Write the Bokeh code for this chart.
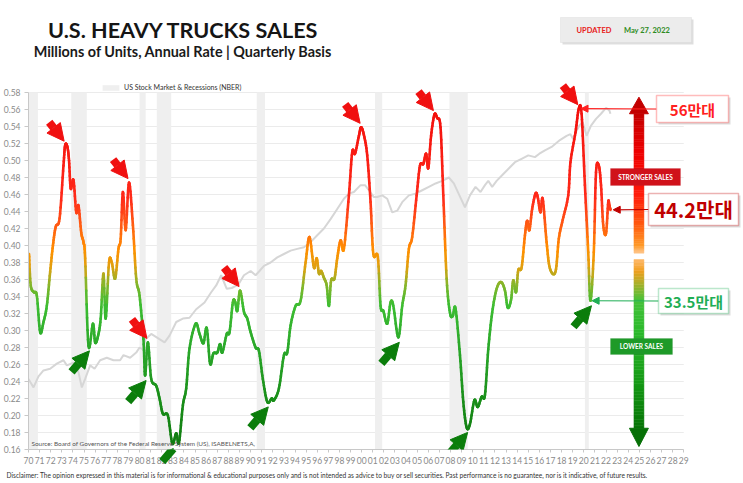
import numpy as np
from bokeh.plotting import figure
from bokeh.models import (ColumnDataSource, FixedTicker, NumeralTickFormatter, Label, Title,
                          BoxAnnotation, Arrow, NormalHead, Legend, LegendItem, Range1d)
from bokeh.embed import file_html
from bokeh.resources import INLINE

# ---------------- data ----------------
truck_year = [
    1970.05, 1970.2, 1970.5, 1970.75, 1971.05, 1971.35, 1971.65, 1971.95, 1972.2, 1972.45,
    1972.8, 1973.15, 1973.3, 1973.5, 1973.65, 1973.8, 1974.05, 1974.3, 1974.5, 1974.75,
    1974.95, 1975.1, 1975.4, 1975.8, 1976.0, 1976.25, 1976.5, 1976.75, 1976.95, 1977.25,
    1977.5, 1977.8, 1978.1, 1978.3, 1978.5, 1978.75, 1979.05, 1979.4, 1979.7, 1980.0,
    1980.35, 1980.5, 1980.75, 1981.05, 1981.5, 1981.8, 1982.1, 1982.55, 1982.95, 1983.3,
    1983.55, 1983.9, 1984.2, 1984.5, 1985.05, 1985.4, 1985.75, 1986.05, 1986.35, 1986.65,
    1987.0, 1987.25, 1987.45, 1987.85, 1988.1, 1988.4, 1988.6, 1988.8, 1989.05, 1989.4,
    1989.7, 1990.0, 1990.45, 1990.75, 1991.1, 1991.5, 1991.9, 1992.1, 1992.55, 1993.0,
    1993.3, 1993.6, 1994.05, 1994.5, 1994.95, 1995.3, 1995.7, 1995.95, 1996.15, 1996.35,
    1996.6, 1996.85, 1997.05, 1997.25, 1997.55, 1997.8, 1998.1, 1998.4, 1998.85, 1999.15,
    1999.4, 1999.75, 1999.95, 2000.2, 2000.5, 2000.8, 2001.05, 2001.45, 2001.7, 2001.95,
    2002.3, 2002.6, 2002.85, 2003.3, 2003.65, 2003.95, 2004.25, 2004.55, 2004.95, 2005.25,
    2005.55, 2005.8, 2006.0, 2006.25, 2006.55, 2006.8, 2007.1, 2007.35, 2007.65, 2007.95,
    2008.2, 2008.45, 2008.85, 2009.15, 2009.45, 2009.75, 2010.15, 2010.45, 2010.8, 2011.1,
    2011.4, 2011.75, 2012.15, 2012.55, 2012.9, 2013.15, 2013.45, 2013.65, 2013.9, 2014.1,
    2014.4, 2014.7, 2014.9, 2015.1, 2015.35, 2015.65, 2015.85, 2016.1, 2016.3, 2016.65,
    2016.95, 2017.45, 2017.75, 2018.1, 2018.6, 2018.8, 2019.25, 2019.55, 2019.8, 2020.1,
    2020.4, 2020.6, 2020.9, 2021.1, 2021.35, 2021.55, 2021.75, 2022.0, 2022.2, 2022.3,
    2022.4]
truck_sales = [
    0.390, 0.353, 0.345, 0.341, 0.298, 0.310, 0.329, 0.369, 0.400, 0.422,
    0.432, 0.494, 0.518, 0.516, 0.500, 0.467, 0.477, 0.439, 0.447, 0.415,
    0.404, 0.385, 0.282, 0.308, 0.286, 0.293, 0.314, 0.367, 0.314, 0.380,
    0.380, 0.361, 0.396, 0.408, 0.463, 0.418, 0.474, 0.424, 0.361, 0.341,
    0.290, 0.247, 0.286, 0.243, 0.235, 0.220, 0.202, 0.200, 0.167, 0.179,
    0.168, 0.212, 0.232, 0.279, 0.308, 0.296, 0.285, 0.303, 0.261, 0.273,
    0.274, 0.284, 0.274, 0.296, 0.298, 0.333, 0.334, 0.323, 0.347, 0.322,
    0.314, 0.298, 0.280, 0.276, 0.243, 0.216, 0.220, 0.218, 0.232, 0.271,
    0.274, 0.306, 0.329, 0.335, 0.380, 0.410, 0.374, 0.385, 0.367, 0.370,
    0.362, 0.353, 0.329, 0.359, 0.361, 0.385, 0.406, 0.396, 0.459, 0.510,
    0.508, 0.529, 0.539, 0.530, 0.506, 0.451, 0.390, 0.387, 0.329, 0.323,
    0.308, 0.333, 0.329, 0.292, 0.329, 0.353, 0.396, 0.410, 0.459, 0.494,
    0.496, 0.508, 0.491, 0.529, 0.554, 0.550, 0.539, 0.459, 0.361, 0.321,
    0.317, 0.326, 0.271, 0.216, 0.186, 0.190, 0.218, 0.210, 0.222, 0.224,
    0.278, 0.321, 0.349, 0.357, 0.347, 0.327, 0.336, 0.359, 0.345, 0.371,
    0.374, 0.412, 0.429, 0.418, 0.443, 0.461, 0.457, 0.439, 0.455, 0.404,
    0.373, 0.369, 0.408, 0.430, 0.459, 0.498, 0.533, 0.561, 0.555, 0.471,
    0.392, 0.335, 0.392, 0.486, 0.494, 0.471, 0.424, 0.414, 0.451, 0.447,
    0.442]

# US stock market (gray line), expressed on the chart's left-axis scale
stock_year = [
    1970.0, 1970.45, 1970.9, 1971.35, 1971.95, 1972.55, 1973.15, 1973.45, 1974.05, 1974.5,
    1974.8, 1975.1, 1975.55, 1975.95, 1976.45, 1977.05, 1977.65, 1978.25, 1978.55, 1979.15,
    1979.7, 1980.0, 1980.25, 1980.55, 1981.05, 1981.65, 1982.25, 1982.7, 1983.3, 1983.9,
    1984.5, 1985.1, 1985.85, 1986.45, 1986.9, 1987.35, 1987.85, 1988.3, 1988.9, 1989.4,
    1990.0, 1990.45, 1990.8, 1991.2, 1991.8, 1992.4, 1993.0, 1993.6, 1994.2, 1994.8,
    1995.4, 1996.0, 1996.6, 1997.2, 1997.8, 1998.4, 1998.85, 1999.3, 1999.9, 2000.3,
    2000.65, 2001.1, 2001.4, 2001.85, 2002.3, 2002.75, 2003.2, 2003.65, 2004.25, 2004.85,
    2005.45, 2006.05, 2006.65, 2007.25, 2007.85, 2008.3, 2008.8, 2009.3, 2009.75, 2010.25,
    2010.7, 2011.1, 2011.4, 2011.75, 2012.15, 2012.6, 2013.2, 2013.8, 2014.4, 2015.0,
    2015.6, 2016.0, 2016.5, 2017.1, 2017.85, 2018.45, 2018.8, 2019.05, 2019.35, 2019.6,
    2019.9, 2020.25, 2020.65, 2021.1, 2021.55, 2022.0, 2022.3, 2022.4]
stock_level = [
    0.243, 0.233, 0.246, 0.253, 0.255, 0.261, 0.265, 0.259, 0.262, 0.251,
    0.233, 0.243, 0.259, 0.255, 0.265, 0.268, 0.265, 0.265, 0.271, 0.268,
    0.274, 0.280, 0.278, 0.290, 0.296, 0.291, 0.286, 0.294, 0.310, 0.314,
    0.315, 0.325, 0.333, 0.345, 0.353, 0.365, 0.349, 0.350, 0.354, 0.365,
    0.370, 0.365, 0.370, 0.376, 0.380, 0.386, 0.390, 0.394, 0.396, 0.398,
    0.404, 0.412, 0.420, 0.431, 0.443, 0.455, 0.461, 0.463, 0.471, 0.471,
    0.465, 0.457, 0.457, 0.459, 0.455, 0.439, 0.441, 0.451, 0.459, 0.461,
    0.465, 0.469, 0.473, 0.476, 0.480, 0.473, 0.459, 0.445, 0.459, 0.469,
    0.463, 0.471, 0.476, 0.469, 0.476, 0.482, 0.490, 0.498, 0.502, 0.506,
    0.504, 0.508, 0.512, 0.516, 0.524, 0.529, 0.531, 0.525, 0.535, 0.541,
    0.545, 0.529, 0.541, 0.549, 0.555, 0.562, 0.559, 0.555]

recession_start = [1969.95, 1973.85, 1980.0, 1981.55, 1990.55, 2001.2, 2007.9, 2020.1]
recession_end = [1970.85, 1975.25, 1980.55, 1982.85, 1991.3, 2001.85, 2009.55, 2020.45]

peak_years = [1973.3, 1979.05, 1980.75, 1989.05, 1999.95, 2006.55, 2019.55]
trough_years = [1975.4, 1980.5, 1982.95, 1991.5, 2003.3, 2009.45, 2020.6]

year_ticks = list(range(1970, 2030))
year_labels = [f"{y % 100:02d}" for y in year_ticks]
value_ticks = [round(0.16 + 0.02 * i, 2) for i in range(22)]

callout_years = [2019.55, 2022.4, 2020.6]
callout_labels = ["56만대", "44.2만대", "33.5만대"]

# ---------------- layout constants ----------------
W, H = 743, 483
FL, FB = 25, 449          # frame left / bottom (canvas px); frame spans to right and top edges
AX_R, AX_T = 683, 92      # where the axes end (canvas px)
X0, X1 = 1970, 2029
Y0, Y1 = 0.16, 0.58
PXY = (AX_R - FL) / (X1 - X0)
PXV = (FB - AX_T) / (Y1 - Y0)
XR_END = X1 + (W - AX_R) / PXY
YR_END = Y1 + AX_T / PXV
FONT = "Lato"


def sx(px):
    return px - FL


def sy(py):
    return FB - py


def hex2rgb(h):
    h = h.lstrip("#")
    return tuple(int(h[i:i + 2], 16) for i in (0, 2, 4))


def grad(v, stops):
    vs = [s[0] for s in stops]
    if v <= vs[0]:
        return stops[0][1]
    if v >= vs[-1]:
        return stops[-1][1]
    for (a, ca), (b, cb) in zip(stops[:-1], stops[1:]):
        if a <= v <= b:
            t = (v - a) / (b - a)
            r1, g1, b1 = hex2rgb(ca)
            r2, g2, b2 = hex2rgb(cb)
            return "#%02x%02x%02x" % (round(r1 + (r2 - r1) * t), round(g1 + (g2 - g1) * t),
                                      round(b1 + (b2 - b1) * t))
    return stops[-1][1]


def smooth(xs, ys, n=8):
    xs = np.asarray(xs, float)
    ys = np.asarray(ys, float)
    px = np.concatenate([[xs[0]], xs, [xs[-1]]])
    py = np.concatenate([[ys[0]], ys, [ys[-1]]])
    t = np.linspace(0, 1, n, endpoint=False)
    ox, oy = [], []
    for i in range(1, len(px) - 2):
        for P, out in ((px, ox), (py, oy)):
            p0, p1, p2, p3 = P[i - 1], P[i], P[i + 1], P[i + 2]
            out.extend(0.5 * (2 * p1 + (-p0 + p2) * t + (2 * p0 - 5 * p1 + 4 * p2 - p3) * t ** 2
                              + (-p0 + 3 * p1 - 3 * p2 + p3) * t ** 3))
    ox.append(xs[-1])
    oy.append(ys[-1])
    return np.array(ox), np.array(oy)


p = figure(width=W, height=H, x_range=Range1d(X0, XR_END), y_range=Range1d(Y0, YR_END),
           output_backend="svg", toolbar_location=None,
           min_border_left=FL, min_border_right=0, min_border_top=0, min_border_bottom=H - FB)
p.outline_line_color = None
p.background_fill_color = "white"
p.border_fill_color = "white"
p.xgrid.visible = False
p.ygrid.visible = False

p.yaxis.ticker = FixedTicker(ticks=value_ticks)
p.yaxis.formatter = NumeralTickFormatter(format="0.00")
p.yaxis.bounds = (Y0, Y1)
p.xaxis.ticker = FixedTicker(ticks=year_ticks)
p.xaxis.major_label_overrides = {y: l for y, l in zip(year_ticks, year_labels)}
p.xaxis.bounds = (X0, X1)
for ax in (p.xaxis, p.yaxis):
    ax.axis_line_color = "#c8c8c8"
    ax.major_tick_line_color = "#c8c8c8"
    ax.minor_tick_line_color = None
    ax.major_tick_in = 0
    ax.major_label_text_color = "#8a8a8a"
    ax.major_label_text_font = FONT
    ax.major_label_text_font_size = "8.5px"
p.yaxis.major_tick_out = 4
p.yaxis.major_label_standoff = 4
p.xaxis.major_tick_out = 3
p.xaxis.major_label_standoff = 4

# horizontal gridlines, limited to the axis span
n_t = len(value_ticks)
p.segment(x0=[X0] * n_t, x1=[X1] * n_t, y0=value_ticks, y1=value_ticks,
          line_color="#ebebeb", line_width=1)

# recessions
rec_src = ColumnDataSource(dict(left=recession_start, right=recession_end,
                                bottom=[Y0] * len(recession_start), top=[Y1] * len(recession_start)))
rec_r = p.quad(left="left", right="right", bottom="bottom", top="top", source=rec_src,
               fill_color="#efefef", line_color=None)

# stock market
p.line(stock_year, stock_level, line_color="#d6d6d6", line_width=2)

# big gradient arrow at the right
AXC = 1970 + (638 - FL) / PXY
hw, hh = 5 / PXY, 9.5 / PXY
upper_stops = [(0.391, "#ffc890"), (0.40, "#ff9a28"), (0.425, "#ff5a10"), (0.46, "#ff1c0c"),
               (0.51, "#ee0000"), (0.555, "#c40000")]
lower_stops = [(0.185, "#067406"), (0.24, "#169a16"), (0.30, "#2cba2c"), (0.335, "#44c23a"),
               (0.355, "#a8b02a"), (0.37, "#f0a020"), (0.3835, "#ffb868")]
for lo, hi, stops in ((0.391, 0.555, upper_stops), (0.185, 0.3835, lower_stops)):
    edges = np.linspace(lo, hi, 61)
    cols = [grad((a + b) / 2, stops) for a, b in zip(edges[:-1], edges[1:])]
    p.quad(left=AXC - hw, right=AXC + hw, bottom=edges[:-1], top=edges[1:],
           fill_color=cols, line_color=cols, line_width=0.5)
p.patch([AXC - hh, AXC + hh, AXC], [0.555, 0.555, 0.5745], fill_color="#c20000", line_color="#c20000")
p.patch([AXC - hh, AXC + hh, AXC], [0.185, 0.185, 0.1635], fill_color="#067006", line_color="#067006")

# main line, colour graded by value
line_stops = [(0.16, "#0f7a0f"), (0.22, "#1a8f1a"), (0.28, "#2aa82a"), (0.33, "#3cbd32"),
              (0.355, "#8ab52a"), (0.375, "#e0a010"), (0.395, "#ff9000"), (0.425, "#ff5a14"),
              (0.455, "#ff2a1a"), (0.58, "#f00a0a")]
mx, my = smooth(truck_year, truck_sales, 8)
seg = ColumnDataSource(dict(x0=mx[:-1], y0=my[:-1], x1=mx[1:], y1=my[1:],
                            c=[grad((a + b) / 2, line_stops) for a, b in zip(my[:-1], my[1:])]))
p.segment(x0="x0", y0="y0", x1="x1", y1="y1", line_color="c", line_width=2.6,
          line_cap="round", source=seg)


def val_at(yr):
    return truck_sales[truck_year.index(yr)]


for yr in peak_years:
    v = val_at(yr)
    p.add_layout(Arrow(x_start=yr - 16 / PXY, y_start=v + 23 / PXV, x_end=yr - 1 / PXY, y_end=v + 4 / PXV,
                       line_color="#f01010", line_width=8,
                       end=NormalHead(size=17, fill_color="#f01010", line_color="#f01010", line_width=1)))
for yr in trough_years:
    v = val_at(yr)
    p.add_layout(Arrow(x_start=yr - 17 / PXY, y_start=v - 26 / PXV, x_end=yr + 1 / PXY, y_end=v - 5 / PXV,
                       line_color="#0b7d0b", line_width=8,
                       end=NormalHead(size=17, fill_color="#0b7d0b", line_color="#0b7d0b", line_width=1)))

# legend
legend = Legend(items=[LegendItem(label="US Stock Market & Recessions (NBER)", renderers=[rec_r])],
                location=(72, 358), glyph_width=21, glyph_height=7, label_height=7,
                label_text_font=FONT, label_text_font_size="7px", label_text_color="#333333",
                label_standoff=3, padding=0, margin=0, spacing=0,
                border_line_alpha=0, background_fill_alpha=0)
p.add_layout(legend, "center")


def screen_box(l, r, t, b, **kw):
    return BoxAnnotation(left=sx(l), right=sx(r), top=sy(t), bottom=sy(b),
                         left_units="screen", right_units="screen", top_units="screen",
                         bottom_units="screen", **kw)


# strength boxes on the big arrow
p.add_layout(screen_box(607, 677, 168, 185, fill_color="#d0121a", fill_alpha=1,
                        line_color="#b00010", line_width=0.5))
p.add_layout(Label(x=sx(642), y=sy(176.5), x_units="screen", y_units="screen", text="STRONGER SALES",
                   text_font=FONT, text_font_style="bold", text_font_size="6.5px", text_color="white",
                   text_align="center", text_baseline="middle"))
p.add_layout(screen_box(607, 669, 338, 354, fill_color="#1e9a28", fill_alpha=1,
                        line_color="#137a1a", line_width=0.5))
p.add_layout(Label(x=sx(638), y=sy(346), x_units="screen", y_units="screen", text="LOWER SALES",
                   text_font=FONT, text_font_style="bold", text_font_size="6.5px", text_color="white",
                   text_align="center", text_baseline="middle"))

# callouts
callout_boxes = [(653, 725, 95, 122), (645, 735, 193, 225), (655, 725, 288, 313)]
callout_colors = ["#ff2020", "#c00000", "#1fae55"]
callout_sizes = ["15px", "20px", "15px"]
callout_offsets = [0.2, 0.25, 0.15]
for yr, lbl, (l, r, t, b), col, fs, off in zip(callout_years, callout_labels, callout_boxes,
                                               callout_colors, callout_sizes, callout_offsets):
    v = val_at(yr)
    p.add_layout(Arrow(x_start=sx(l), y_start=sy((t + b) / 2), start_units="screen",
                       x_end=yr + off, y_end=v, line_color=col, line_width=1.2,
                       end=NormalHead(size=7, fill_color=col, line_color=col, line_width=1)))
    p.add_layout(screen_box(l + 2, r + 2, t + 2, b + 2, fill_color="#9a9a9a", fill_alpha=0.35,
                            line_color=None))
    p.add_layout(screen_box(l, r, t, b, fill_color="white", fill_alpha=1, line_color=col, line_width=1.5))
    p.add_layout(Label(x=sx((l + r) / 2), y=sy((t + b) / 2), x_units="screen", y_units="screen",
                       text=lbl, text_font="Noto Sans CJK KR", text_font_style="bold",
                       text_font_size=fs, text_color=col, text_align="center", text_baseline="middle"))

# titles
p.add_layout(Label(x=sx(180), y=sy(29), x_units="screen", y_units="screen",
                   text="U.S. HEAVY TRUCKS SALES", text_font=FONT, text_font_style="bold",
                   text_font_size="21.6px", text_color="#151515", text_align="center",
                   text_baseline="middle"))
p.add_layout(Label(x=sx(179.5), y=sy(50.5), x_units="screen", y_units="screen",
                   text="Millions of Units, Annual Rate | Quarterly Basis", text_font=FONT,
                   text_font_style="bold", text_font_size="14.4px", text_color="#1a1a1a",
                   text_align="center", text_baseline="middle"))

# updated box
p.add_layout(screen_box(559, 690, 19, 44, fill_color="#a0a0a0", fill_alpha=0.35, line_color=None))
p.add_layout(screen_box(557, 688, 17, 42, fill_color="#ececec", fill_alpha=1,
                        line_color="#cfcfcf", line_width=1))
p.add_layout(Label(x=sx(590.5), y=sy(29.5), x_units="screen", y_units="screen", text="UPDATED",
                   text_font=FONT, text_font_style="bold", text_font_size="7.5px", text_color="#e82020",
                   text_align="center", text_baseline="middle"))
p.add_layout(Label(x=sx(643.5), y=sy(29.5), x_units="screen", y_units="screen", text="May 27, 2022",
                   text_font=FONT, text_font_style="bold", text_font_size="7.5px", text_color="#2e8b22",
                   text_align="center", text_baseline="middle"))

# source
p.add_layout(Label(x=sx(28), y=sy(443), x_units="screen", y_units="screen",
                   text="Source: Board of Governors of the Federal Reserve System (US), ISABELNETS,A,",
                   text_font=FONT, text_font_size="6.4px", text_color="#555555",
                   text_align="left", text_baseline="middle"))

# disclaimer under the x axis
p.add_layout(Title(text="Disclaimer: The opinion expressed in this material is for informational & educational "
                        "purposes only and is not intended as advice to buy or sell securities. Past performance "
                        "is no guarantee, nor is it indicative, of future results.",
                   align="left", offset=-22, standoff=4, text_font=FONT, text_font_size="6.6px",
                   text_font_style="normal", text_color="#333333"), "below")

open("out.html", "w").write(file_html(p, INLINE))
